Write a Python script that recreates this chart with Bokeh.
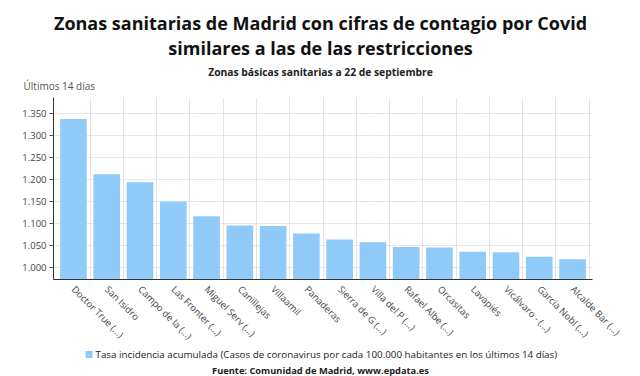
from bokeh.plotting import figure
from bokeh.layouts import column, row
from bokeh.models import Range1d, FixedTicker, ColumnDataSource
from bokeh.core.properties import value
from bokeh.embed import file_html
from bokeh.resources import INLINE

categories = ["Doctor True (...)", "San Isidro", "Campo de la (...)", "Las Fronter (...)",
              "Miguel Serv (...)", "Canillejas", "Villaamil", "Panaderas",
              "Sierra de G (...)", "Villa del P (...)", "Rafael Albe (...)", "Orcasitas",
              "Lavapiés", "Vicálvaro - (...)", "García Nobl (...)", "Alcalde Bar (...)"]
values = [1338, 1212, 1194, 1150, 1116, 1095, 1094, 1077, 1063, 1057, 1046, 1045, 1035, 1034, 1024, 1018]
yticks = [1000, 1050, 1100, 1150, 1200, 1250, 1300, 1350]
title_lines = ["Zonas sanitarias de Madrid con cifras de contagio por Covid",
               "similares a las de las restricciones"]
subtitle = "Zonas básicas sanitarias a 22 de septiembre"
y_title = "Últimos 14 días"
series_name = "Tasa incidencia acumulada (Casos de coronavirus por cada 100.000 habitantes en los últimos 14 días)"
source_text = "Fuente: Comunidad de Madrid, www.epdata.es"

FONT = "Open Sans"
BAR = "#90CAF9"
n = len(categories)
W = 640
FL, FR = 53, 592              # main frame left/right in page pixels
H_HEAD, H_MAIN, H_FOOT = 97, 252, 27


def blank(h, x0, x1):
    f = figure(width=W, height=h, output_backend="svg", toolbar_location=None,
               x_range=Range1d(x0, x1), y_range=Range1d(0, h),
               x_axis_location=None, y_axis_location=None, min_border=0, title=None)
    f.grid.visible = False
    f.outline_line_color = None
    f.border_fill_color = "white"
    f.background_fill_color = "white"
    return f


# header (x in page pixels, y measured from bottom of the header)
hd = blank(H_HEAD, 0, W)
hd.text(x=[W / 2, W / 2], y=[H_HEAD - 22, H_HEAD - 47], text=title_lines,
        text_align="center", text_baseline="middle", text_font=value(FONT),
        text_font_size="18px", text_font_style="bold", text_color="#111111")
hd.text(x=[W / 2], y=[H_HEAD - 71], text=[subtitle], text_align="center", text_baseline="middle",
        text_font=value(FONT), text_font_size="10.3px", text_font_style="bold", text_color="#222222")
hd.text(x=[23], y=[H_HEAD - 85], text=[y_title], text_align="left", text_baseline="middle",
        text_font=value(FONT), text_font_size="10px", text_color="#555555")

# main chart
p = figure(width=W, height=H_MAIN, output_backend="svg", toolbar_location=None,
           x_range=Range1d(-0.6, n - 0.4), y_range=Range1d(972, 1387),
           min_border_left=FL, min_border_right=W - FR, min_border_top=0, min_border_bottom=66,
           title=None)
p.outline_line_color = None
p.background_fill_color = "white"
p.border_fill_color = "white"

src = ColumnDataSource(dict(x=list(range(n)), top=values, name=categories))
p.vbar(x="x", top="top", bottom=0, width=0.8, source=src, fill_color=BAR, line_color=None)

p.xaxis.ticker = FixedTicker(ticks=list(range(n)))
p.xaxis.major_label_overrides = {i: c for i, c in enumerate(categories)}
p.xaxis.major_label_orientation = -0.785398
p.xaxis.major_label_text_font = FONT
p.xaxis.major_label_text_font_size = "9.5px"
p.xaxis.major_label_text_color = "#444444"
p.xaxis.major_tick_line_color = None
p.xaxis.minor_tick_line_color = None
p.xaxis.axis_line_color = "#333333"
p.xaxis.major_label_standoff = 2

p.yaxis.ticker = FixedTicker(ticks=yticks)
p.yaxis.major_label_overrides = {v: f"{v:,}".replace(",", ".") for v in yticks}
p.yaxis.major_label_text_font = FONT
p.yaxis.major_label_text_font_size = "9.5px"
p.yaxis.major_label_text_color = "#444444"
p.yaxis.major_label_standoff = 3
p.yaxis.major_tick_line_color = "#555555"
p.yaxis.major_tick_in = 0
p.yaxis.major_tick_out = 4
p.yaxis.minor_tick_line_color = None
p.yaxis.axis_line_color = "#333333"

p.ygrid.grid_line_color = "#cfcfcf"
p.ygrid.grid_line_dash = "1 1"
p.xgrid.ticker = FixedTicker(ticks=[i + 0.5 for i in range(n)])
p.xgrid.grid_line_color = "#e4e0ec"

# footer: legend swatch + label, source (frame aligned with main frame)
ft = blank(H_FOOT, FL, FR)
ft.scatter(x=[88.5], y=[H_FOOT - 5], marker="square", size=7, fill_color=BAR, line_color=None)
ft.text(x=[95], y=[H_FOOT - 5], text=[series_name], text_align="left", text_baseline="middle",
        text_font=value(FONT), text_font_size="9.8px", text_color="#222222")
ft.text(x=[W / 2], y=[H_FOOT - 20.5], text=[source_text], text_align="center", text_baseline="middle",
        text_font=value(FONT), text_font_size="9.3px", text_font_style="bold", text_color="#222222")

layout = column(row(hd, spacing=0), p, ft, spacing=0)
open("out.html", "w").write(file_html(layout, INLINE))
